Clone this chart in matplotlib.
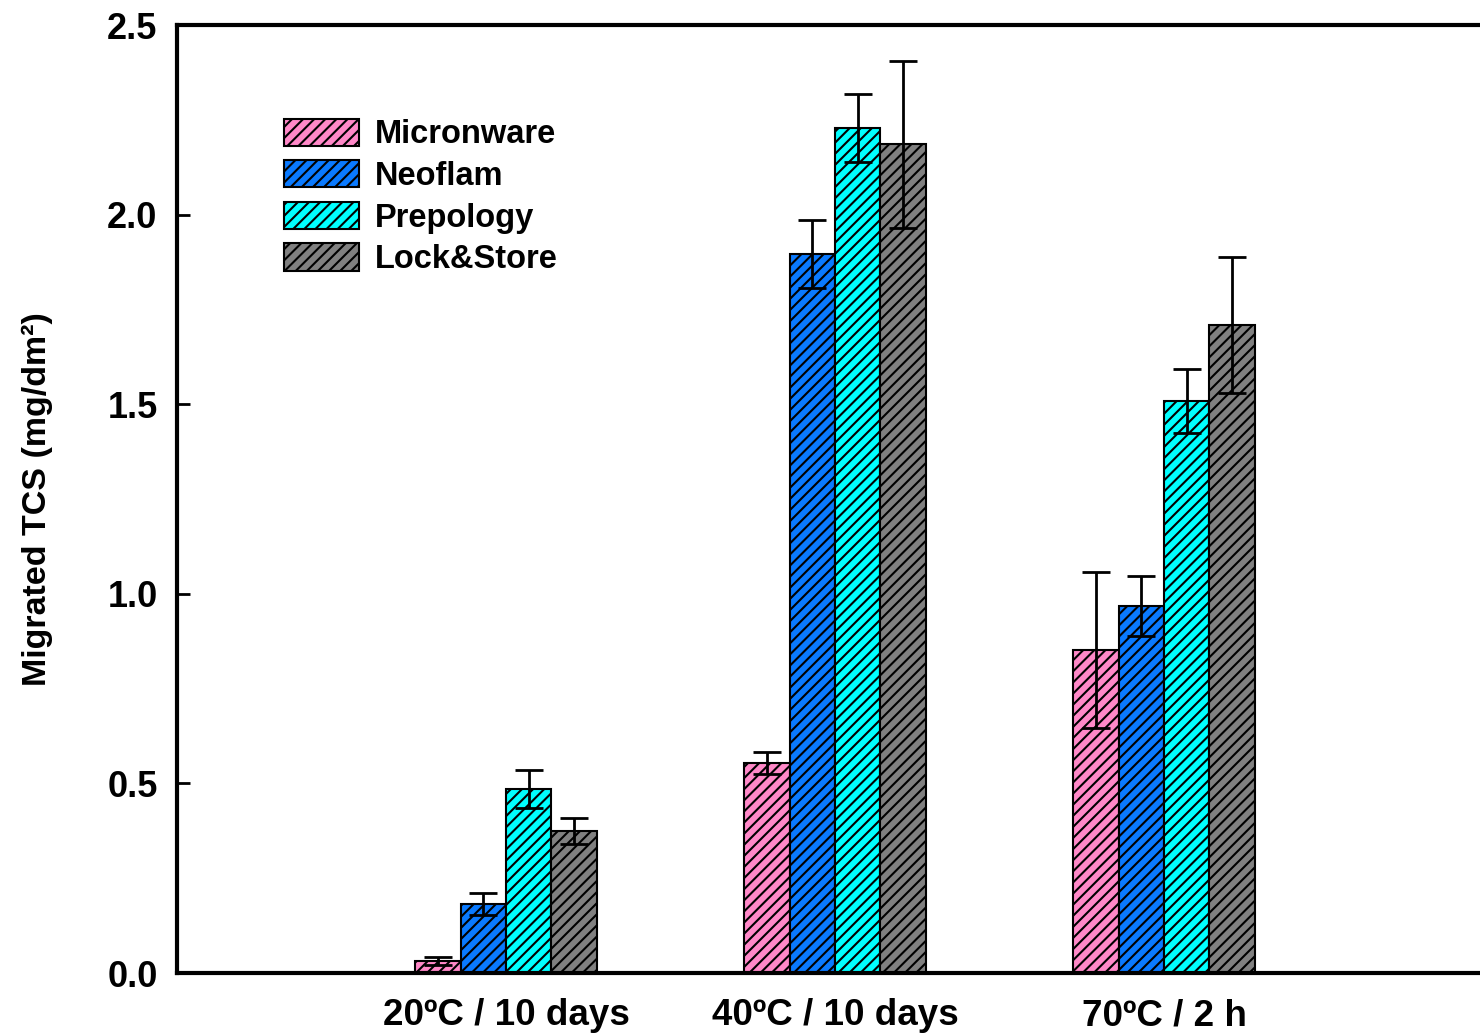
import numpy as np
import matplotlib
matplotlib.use('Agg')
import matplotlib.pyplot as plt

plt.rcParams['font.family'] = ['Liberation Sans', 'DejaVu Sans']
plt.rcParams['font.weight'] = 'bold'
plt.rcParams['hatch.linewidth'] = 1.5

conditions = ['20ºC / 10 days', '40ºC / 10 days', '70ºC / 2 h']
brands = ['Micronware', 'Neoflam', 'Prepology', 'Lock&Store']

micronware = [0.032, 0.554, 0.852]
micronware_err = [0.01, 0.03, 0.205]
neoflam = [0.182, 1.896, 0.968]
neoflam_err = [0.03, 0.09, 0.08]
prepology = [0.485, 2.228, 1.508]
prepology_err = [0.05, 0.09, 0.085]
lockstore = [0.374, 2.186, 1.709]
lockstore_err = [0.035, 0.22, 0.18]

values = [micronware, neoflam, prepology, lockstore]
errors = [micronware_err, neoflam_err, prepology_err, lockstore_err]
colors = ['#ff88c8', '#0a7aff', '#00ffff', '#808080']

fig = plt.figure(figsize=(14.8, 10.35), dpi=100)
ax = fig.add_axes([0.1196, 0.0599, 1.0088 - 0.1196, 0.9758 - 0.0599])

x = np.arange(len(conditions))
w = 0.138
for i in range(len(brands)):
    pos = x + (i - 1.5) * w
    ax.bar(pos, values[i], w, color=colors[i], edgecolor='black', linewidth=1.5,
           hatch='///', label=brands[i])
    ax.errorbar(pos, values[i], yerr=errors[i], fmt='none', ecolor='black',
                elinewidth=2, capsize=10, capthick=2)

ax.set_xlim(-1, 3)
ax.set_ylim(0, 2.5)
ax.set_yticks([0, 0.5, 1.0, 1.5, 2.0, 2.5])
ax.set_yticklabels(['0.0', '0.5', '1.0', '1.5', '2.0', '2.5'])
ax.set_xticks(x)
ax.set_xticklabels(conditions, fontsize=26.5, fontweight='bold')
ax.tick_params(axis='x', length=0, pad=18)
ax.tick_params(axis='y', direction='in', length=9, width=2, labelsize=26, pad=14)
for lab in ax.get_yticklabels():
    lab.set_fontweight('bold')
for s in ['left', 'bottom', 'top', 'right']:
    ax.spines[s].set_linewidth(3)

ax.set_ylabel('Migrated TCS (mg/dm²)', fontsize=24.5, fontweight='bold', labelpad=39)

leg = ax.legend(loc='upper left', bbox_to_anchor=(0.071, 0.915), frameon=False,
                prop={'size': 23.5, 'weight': 'bold'}, handlelength=2.3, handleheight=0.9,
                labelspacing=0.3, handletextpad=0.5, borderaxespad=0)

fig.savefig('out.png', dpi=100)
